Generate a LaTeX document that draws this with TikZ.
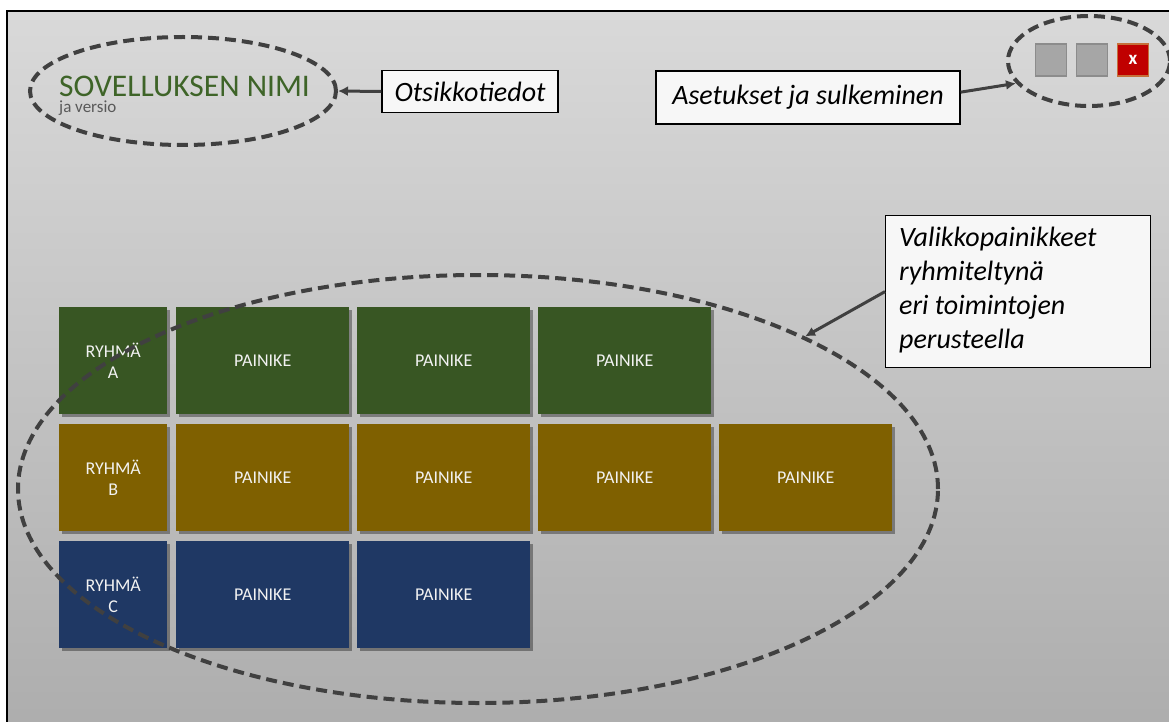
\documentclass[tikz,border=0pt]{standalone}
\usepackage{fontspec}
\setmainfont{Carlito}
\usetikzlibrary{shapes.geometric,arrows.meta,shadows}

\definecolor{bgtop}{HTML}{D9D9D9}
\definecolor{bgbot}{HTML}{A6A6A6}
\definecolor{ink}{HTML}{404040}
\definecolor{titlegreen}{HTML}{3E6428}
\definecolor{subgrey}{HTML}{595959}
\definecolor{grpA}{HTML}{385623}
\definecolor{grpB}{HTML}{7F6000}
\definecolor{grpC}{HTML}{1F3864}
\definecolor{tiletext}{HTML}{F2F2F2}
\definecolor{ctrlgrey}{HTML}{A6A6A6}
\definecolor{ctrledge}{HTML}{8C8C8C}
\definecolor{closered}{HTML}{C00000}
\definecolor{closeedge}{HTML}{C5703A}
\definecolor{notefill}{HTML}{F7F7F7}

\pgfdeclareverticalshading{panelshade}{100bp}{%
  color(0bp)=(bgbot); color(25bp)=(bgbot!85!bgtop); color(75bp)=(bgtop); color(100bp)=(bgtop)}

\tikzset{
  tile/.style={anchor=north west, minimum height=107pt, inner sep=0pt,
    text=tiletext, font=\fontsize{18}{21}\selectfont, align=center,
    drop shadow={shadow xshift=2.5pt, shadow yshift=-2.5pt, opacity=0.35, fill=black}},
  groupA/.style={tile, fill=grpA},
  groupB/.style={tile, fill=grpB},
  groupC/.style={tile, fill=grpC},
  narrowtile/.style={minimum width=108pt},
  widetile/.style={minimum width=173pt},
  ring/.style={draw=ink, line width=4pt, dash pattern=on 11pt off 6pt, ellipse, inner sep=0pt},
  note/.style={draw=black, line width=1.2pt, fill=notefill, inner sep=0pt,
    font=\itshape\fontsize{28}{34}\selectfont},
  pointer/.style={draw=ink, line width=3pt, -{Latex[length=10pt,width=10pt]}},
  ctrl/.style={minimum width=31pt, minimum height=32pt, inner sep=0pt, line width=1.2pt},
}

\begin{document}
\begin{tikzpicture}[x=1pt, y=-1pt]
\useasboundingbox (0,0) rectangle (1169,722);
\fill[white] (0,0) rectangle (1169,722);

% window background with its top and left frame lines
\shade[shading=panelshade] (7,11) rectangle (1169,722);
\draw[black, line width=2pt] (7,722) -- (7,11) -- (1169,11);

% application title
\node[anchor=base west, inner sep=0pt, text=titlegreen, font=\fontsize{31.5}{34}\selectfont] (title) at (59,97) {SOVELLUKSEN NIMI};
\node[anchor=base west, inner sep=0pt, text=subgrey, font=\fontsize{17}{20}\selectfont] (version) at (59,113) {ja versio};
\node[ring, minimum width=306pt, minimum height=108pt] (titlering) at (183,91) {};

% header note
\node[note, minimum width=176pt, minimum height=42pt] (headnote) at (470,91.5) {Otsikkotiedot};
\draw[pointer] (headnote.west) -- (titlering.east);

% window controls
\node[ctrl, fill=ctrlgrey, draw=ctrledge] (opt1) at (1051,60) {};
\node[ctrl, fill=ctrlgrey, draw=ctrledge] (opt2) at (1092,60) {};
\node[ctrl, fill=closered, draw=closeedge, text=white, font=\bfseries\fontsize{19}{20}\selectfont] (close) at (1133,60) {x};
\node[ring, minimum width=162pt, minimum height=90pt] (ctrlring) at (1089,61) {};

\node[note, minimum width=304pt, minimum height=53pt] (setnote) at (808,97.5) {Asetukset ja sulkeminen};
\draw[pointer] (setnote.2.5) -- (ctrlring.197);

% menu tiles: row A
\node[groupA, narrowtile] (ga) at (59,307) {RYHMÄ\\A};
\node[groupA, widetile] (a1) at (176,307) {PAINIKE};
\node[groupA, widetile] (a2) at (357,307) {PAINIKE};
\node[groupA, widetile] (a3) at (538,307) {PAINIKE};
% row B
\node[groupB, narrowtile] (gb) at (59,424) {RYHMÄ\\B};
\node[groupB, widetile] (b1) at (176,424) {PAINIKE};
\node[groupB, widetile] (b2) at (357,424) {PAINIKE};
\node[groupB, widetile] (b3) at (538,424) {PAINIKE};
\node[groupB, widetile] (b4) at (719,424) {PAINIKE};
% row C
\node[groupC, narrowtile] (gc) at (59,541) {RYHMÄ\\C};
\node[groupC, widetile] (c1) at (176,541) {PAINIKE};
\node[groupC, widetile] (c2) at (357,541) {PAINIKE};

\node[ring, minimum width=920pt, minimum height=428pt] (menuring) at (478,489) {};

% menu note
\node[note, anchor=north west, minimum width=265pt, minimum height=152pt] (menunote) at (885,215) {};
\node[anchor=north west, inner sep=0pt, align=left, font=\itshape\fontsize{28}{34}\selectfont] (menutext) at (899,227)
  {Valikkopainikkeet\\ryhmiteltynä\\eri toimintojen\\perusteella};
\draw[pointer] (menunote.west) -- (menuring.25);
\end{tikzpicture}
\end{document}
